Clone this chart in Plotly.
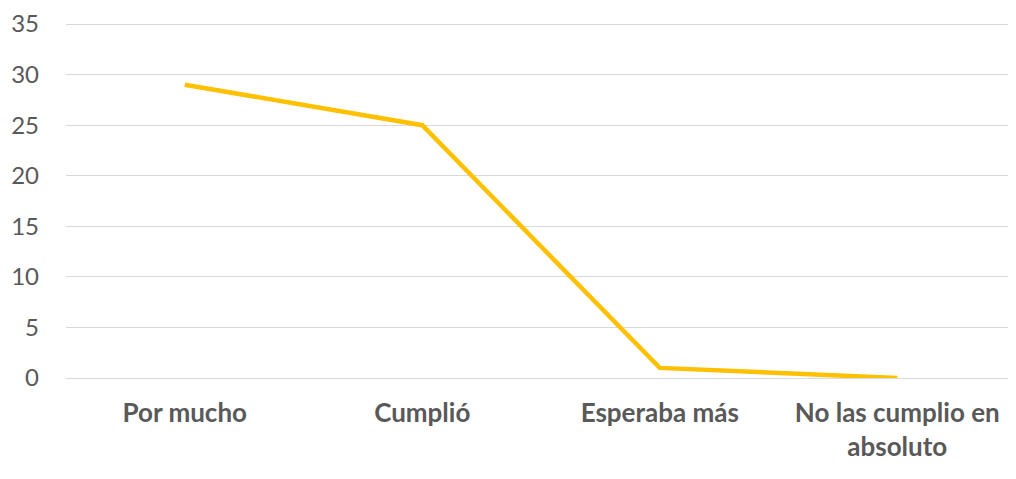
import plotly.graph_objects as go

categories = ["Por mucho", "Cumplió", "Esperaba más", "No las cumplio en<br>absoluto"]
values = [29, 25, 1, 0]
y_ticks = [0, 5, 10, 15, 20, 25, 30, 35]

fig = go.Figure()
fig.add_trace(go.Scatter(
    x=categories, y=values, mode="lines",
    line=dict(color="#FFC000", width=4.5),
    hoverinfo="skip", showlegend=False,
))

fig.update_layout(
    width=1008, height=471,
    margin=dict(l=58, r=0, t=7, b=101),
    paper_bgcolor="white", plot_bgcolor="white",
    font=dict(family="Lato, Open Sans, sans-serif", size=24, color="#595959"),
)
fig.update_xaxes(
    type="category", range=[-0.5, 3.5],
    showgrid=False, showline=False, zeroline=False, ticks="",
    tickfont=dict(family="Lato, Open Sans, sans-serif", size=26, color="#595959", weight="bold"),
    ticklabelstandoff=17,
)
fig.update_yaxes(
    range=[0, 35.3], tickvals=y_ticks, ticklabeloverflow="allow",
    showgrid=True, gridcolor="#D9D9D9", gridwidth=1.3,
    zeroline=True, zerolinecolor="#D9D9D9", zerolinewidth=1.3,
    showline=False, ticks="", ticklabelstandoff=26,
    tickfont=dict(family="Lato, Open Sans, sans-serif", size=24, color="#595959"),
)

fig.write_html("out.html")
